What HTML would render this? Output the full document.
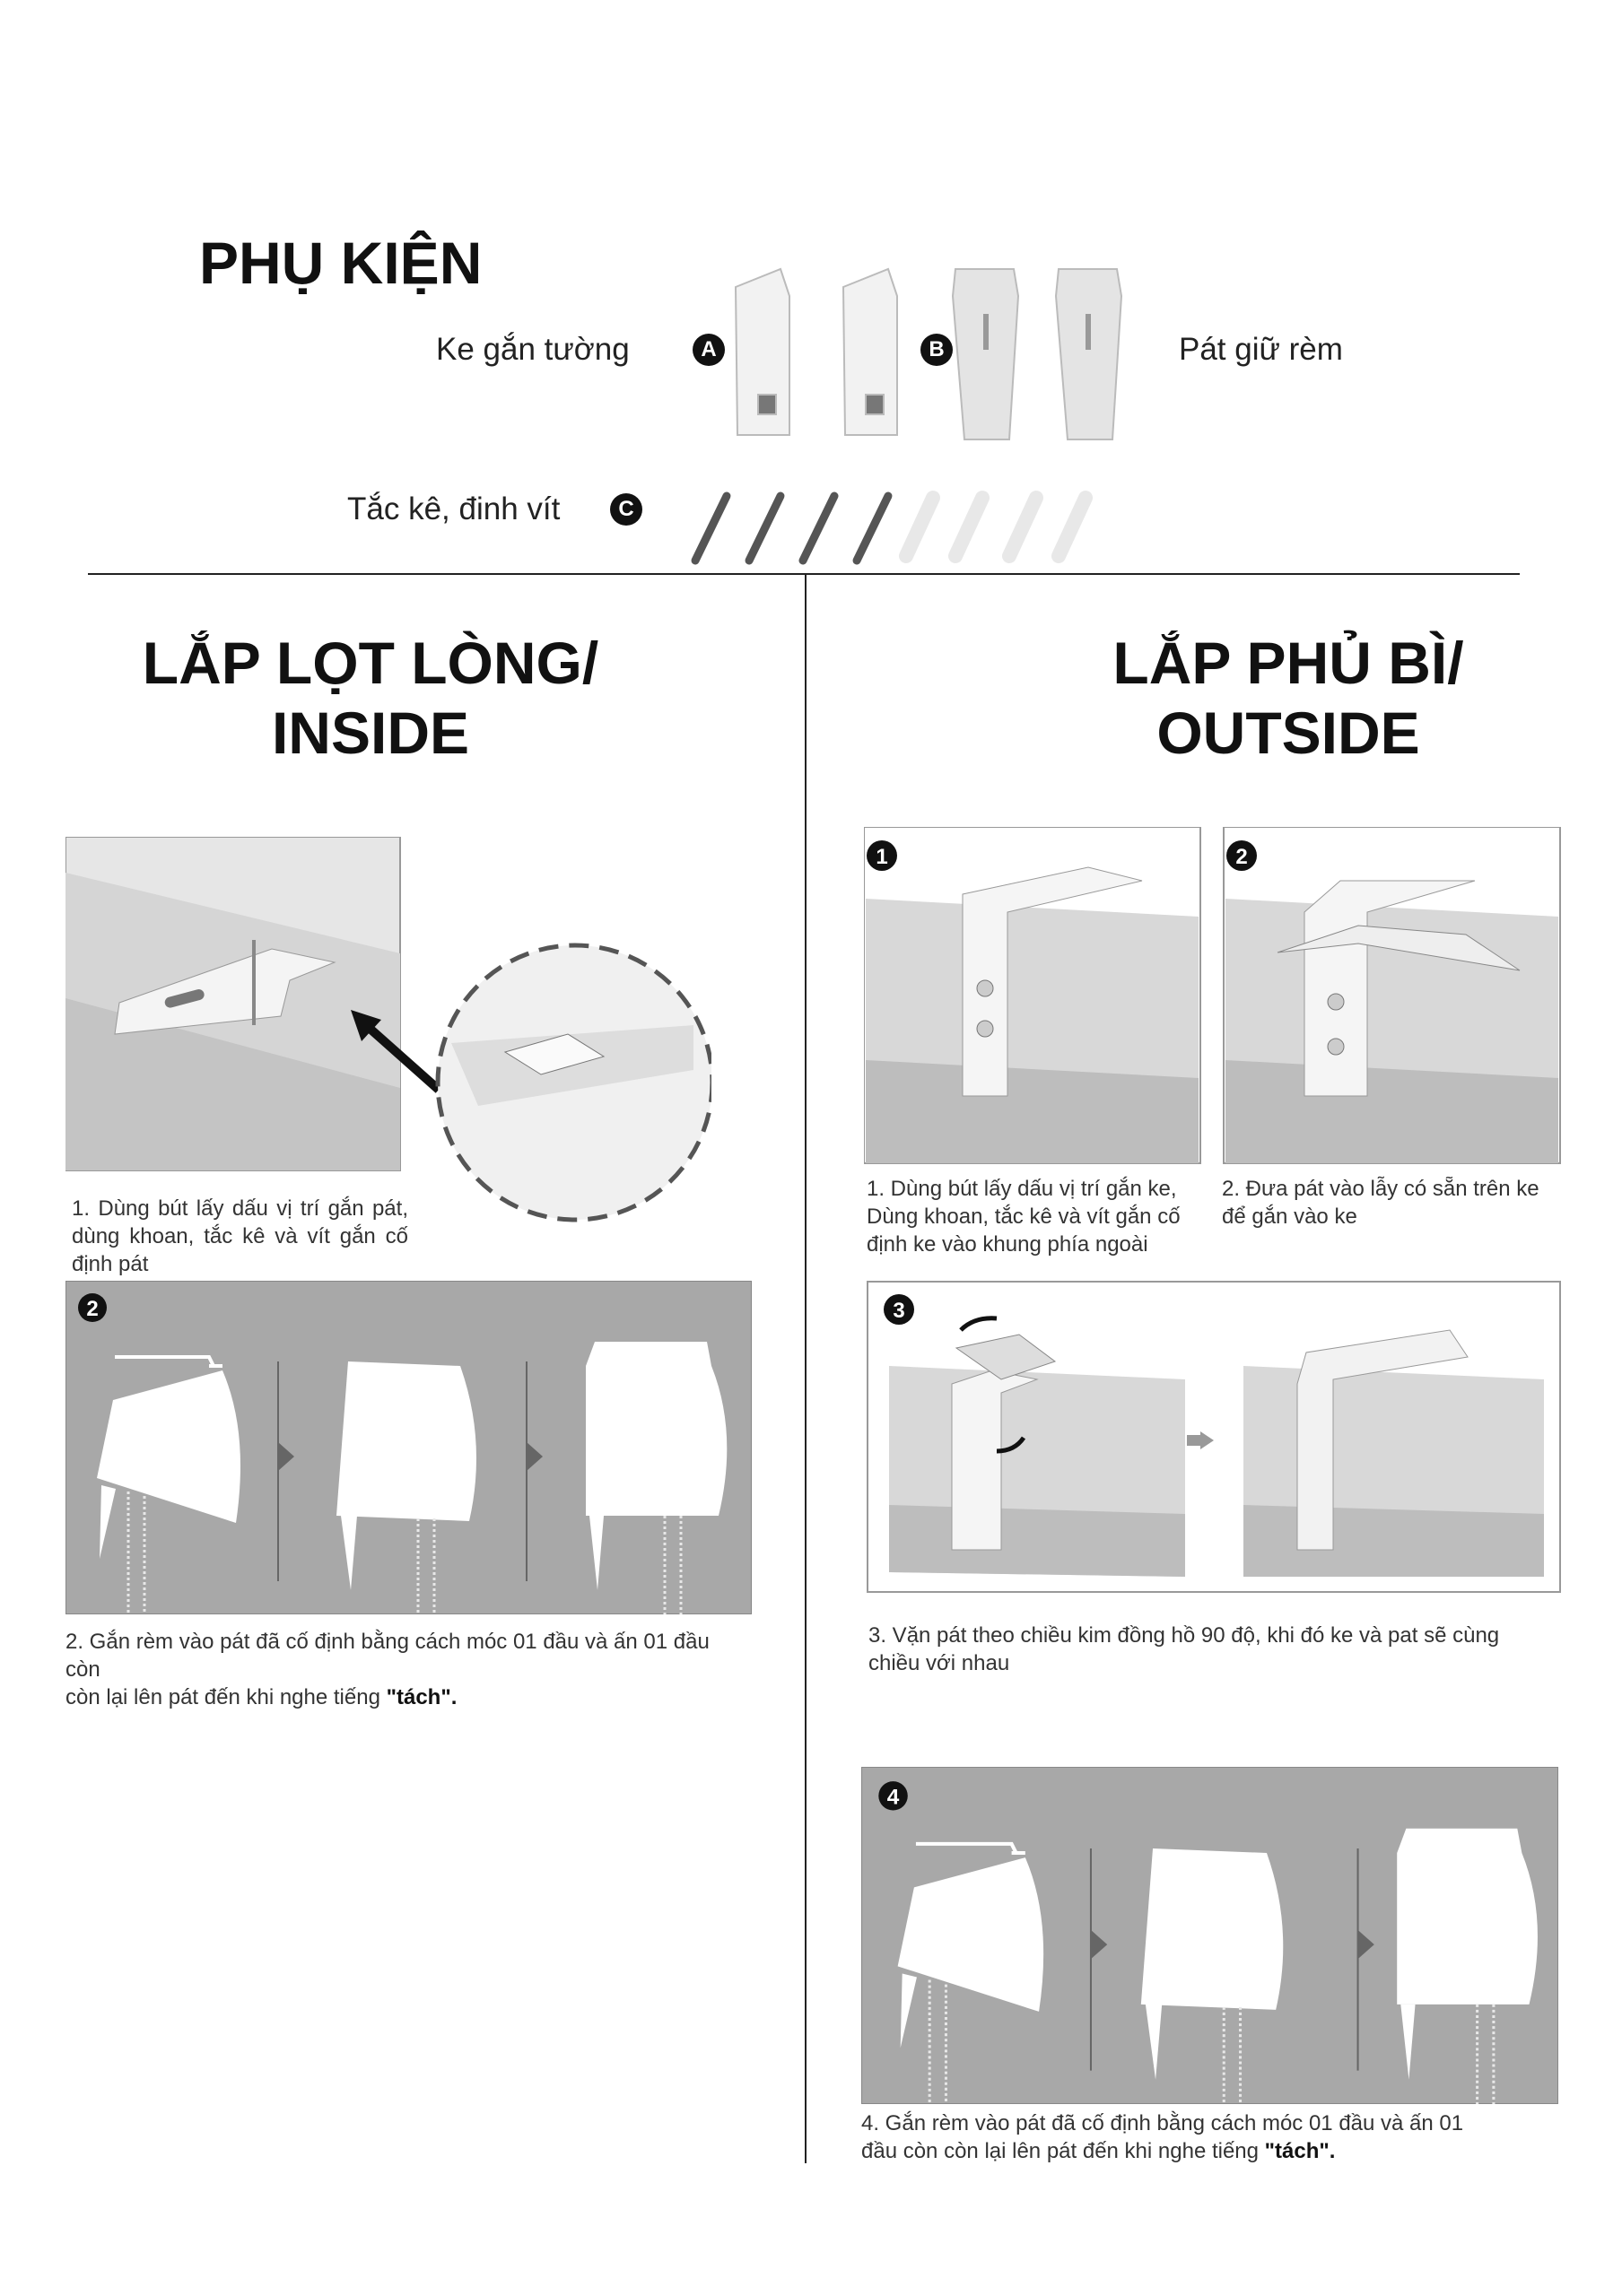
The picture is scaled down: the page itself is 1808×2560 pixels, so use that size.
<!DOCTYPE html>
<html><head><meta charset="utf-8"><style>
body{margin:0;background:#fff;}
#p{position:relative;width:1808px;height:2560px;overflow:hidden;background:#fff;font-family:"Liberation Sans",sans-serif;color:#222;}
.a{position:absolute;}
.h{font-weight:bold;color:#111;}
.t{font-size:24px;line-height:31px;color:#333;}
.c{width:36px;height:36px;border-radius:50%;background:#111;color:#fff;font-weight:bold;font-size:24px;text-align:center;line-height:36px;}
</style></head><body><div id="p">

<div class="a h" style="left:222px;top:255px;font-size:66px;">PHỤ KIỆN</div>
<div class="a" style="left:486px;top:370px;font-size:35px;">Ke gắn tường</div>
<div class="a c" style="left:772px;top:372px;">A</div>
<div class="a c" style="left:1026px;top:372px;">B</div>
<div class="a" style="left:1314px;top:370px;font-size:35px;">Pát giữ rèm</div>
<div class="a" style="left:387px;top:548px;font-size:35px;">Tắc kê, đinh vít</div>
<div class="a c" style="left:680px;top:550px;">C</div>

<svg class="a" style="left:800px;top:290px" width="470" height="210">
 <g fill="#f2f2f2" stroke="#bbb" stroke-width="2">
  <path d="M20 30 L70 10 L80 40 L80 195 L22 195 Z"/><rect x="45" y="150" width="20" height="22" fill="#777"/>
  <path d="M140 30 L190 10 L200 40 L200 195 L142 195 Z"/><rect x="165" y="150" width="20" height="22" fill="#777"/>
  <path d="M265 10 L330 10 L335 40 L325 200 L275 200 L262 40 Z" fill="#e4e4e4"/>
  <path d="M380 10 L445 10 L450 40 L440 200 L390 200 L377 40 Z" fill="#e4e4e4"/>
 </g>
 <g fill="#999"><rect x="296" y="60" width="6" height="40"/><rect x="410" y="60" width="6" height="40"/></g>
</svg>
<svg class="a" style="left:765px;top:535px" width="470" height="100">
 <g stroke="#555" stroke-width="9" stroke-linecap="round">
  <line x1="10" y1="90" x2="45" y2="18"/><line x1="70" y1="90" x2="105" y2="18"/><line x1="130" y1="90" x2="165" y2="18"/><line x1="190" y1="90" x2="225" y2="18"/>
 </g>
 <g stroke="#e8e8e8" stroke-width="16" stroke-linecap="round">
  <line x1="245" y1="85" x2="275" y2="20"/><line x1="300" y1="85" x2="330" y2="20"/><line x1="360" y1="85" x2="390" y2="20"/><line x1="415" y1="85" x2="445" y2="20"/>
 </g>
</svg>

<div class="a" style="left:98px;top:639px;width:1596px;height:2px;background:#222;"></div>
<div class="a" style="left:897px;top:640px;width:2px;height:1772px;background:#222;"></div>

<div class="a h" style="left:113px;top:700px;width:600px;text-align:center;font-size:66px;line-height:78px;">LẮP LỌT LÒNG/<br>INSIDE</div>
<div class="a h" style="left:1136px;top:700px;width:600px;text-align:center;font-size:66px;line-height:78px;">LẮP PHỦ BÌ/<br>OUTSIDE</div>

<!-- left panel 1 -->
<svg class="a" style="left:73px;top:933px" width="720" height="430">
 <rect x="0" y="0" width="373" height="372" fill="#e6e6e6" stroke="#999" stroke-width="2"/>
 <polygon points="0,40 373,130 373,372 0,372" fill="#d5d5d5"/>
 <polygon points="0,180 373,280 373,372 0,372" fill="#c4c4c4"/>
 <polygon points="60,185 230,125 300,140 250,160 240,200 55,220" fill="#f4f4f4" stroke="#999"/>
 <rect x="110" y="175" width="45" height="12" rx="6" fill="#777" transform="rotate(-15 130 180)"/>
 <line x1="210" y1="115" x2="210" y2="210" stroke="#888" stroke-width="4"/>
 <path d="M416 282 L335 210" stroke="#111" stroke-width="10"/>
 <polygon points="318,193 352,204 330,228" fill="#111"/>
 <circle cx="568" cy="274" r="153" fill="#f0f0f0" stroke="#555" stroke-width="5" stroke-dasharray="22 12"/>
 <polygon points="430,230 700,210 700,260 460,300" fill="#ddd"/>
 <polygon points="490,240 560,220 600,245 530,265" fill="#fafafa" stroke="#777"/>
</svg>
<div class="a t" style="left:80px;top:1332px;width:375px;text-align:justify;">1. Dùng bút lấy dấu vị trí gắn pát, dùng khoan, tắc kê và vít gắn cố định pát</div>

<!-- roller panel (left 2) -->
<svg class="a" style="left:73px;top:1428px" width="765" height="372" viewBox="0 0 765 372">
 <rect x="0" y="0" width="765" height="372" fill="#a8a8a8" stroke="#888" stroke-width="2"/>
 <circle cx="30" cy="30" r="16" fill="#111"/><text x="30" y="39" font-size="24" font-weight="bold" fill="#fff" text-anchor="middle" font-family="Liberation Sans">2</text>
 <g fill="#fff">
  <path d="M53 133 L175 100 Q205 170 190 270 L35 220 Z"/>
  <path d="M40 228 L56 232 L38 310 Z"/>
  <path d="M315 90 L440 95 Q470 180 450 268 L302 262 Z"/>
  <path d="M307 262 L325 262 L318 345 Z"/>
  <path d="M590 68 L715 68 L720 95 Q750 170 728 262 L580 262 L580 95 Z"/>
  <path d="M584 262 L600 262 L593 345 Z"/>
 </g>
 <path d="M55 85 L160 85 L165 95 M160 95 L175 95" stroke="#fff" stroke-width="4" fill="none"/>
 <polygon points="237,180 255,196 237,212" fill="#666"/>
 <polygon points="514,180 532,196 514,212" fill="#666"/>
 <line x1="237" y1="90" x2="237" y2="335" stroke="#666" stroke-width="2"/>
 <line x1="514" y1="90" x2="514" y2="335" stroke="#666" stroke-width="2"/>
 <g stroke="#e8e8e8" stroke-width="3" stroke-dasharray="3 3">
  <line x1="70" y1="235" x2="70" y2="372"/><line x1="88" y1="240" x2="88" y2="372"/>
  <line x1="393" y1="265" x2="393" y2="372"/><line x1="411" y1="265" x2="411" y2="372"/>
  <line x1="668" y1="262" x2="668" y2="372"/><line x1="686" y1="262" x2="686" y2="372"/>
 </g>
</svg>
<div class="a t" style="left:73px;top:1815px;width:800px;">2. Gắn rèm vào pát đã cố định bằng cách móc 01 đầu và ấn 01 đầu<br>còn<br>còn lại lên pát đến khi nghe tiếng <b style="color:#111">"tách".</b></div>

<!-- right panels 1,2 -->
<svg class="a" style="left:963px;top:922px" width="780" height="380">
 <g>
  <rect x="0" y="0" width="375" height="375" fill="#fff" stroke="#999" stroke-width="2"/>
  <polygon points="2,80 373,100 373,310 2,300" fill="#d8d8d8"/>
  <polygon points="2,260 373,280 373,375 2,375" fill="#bdbdbd"/>
  <path d="M110 75 L250 45 L310 60 L160 95 L160 300 L110 300 Z" fill="#f5f5f5" stroke="#999"/>
  <circle cx="135" cy="180" r="9" fill="#ccc" stroke="#777"/><circle cx="135" cy="225" r="9" fill="#ccc" stroke="#777"/>
  <circle cx="20" cy="32" r="17" fill="#111"/><text x="20" y="41" font-size="24" font-weight="bold" fill="#fff" text-anchor="middle" font-family="Liberation Sans">1</text>
 </g>
 <g transform="translate(401,0)">
  <rect x="0" y="0" width="375" height="375" fill="#fff" stroke="#999" stroke-width="2"/>
  <polygon points="2,80 373,100 373,310 2,300" fill="#d8d8d8"/>
  <polygon points="2,260 373,280 373,375 2,375" fill="#bdbdbd"/>
  <path d="M90 95 L130 60 L280 60 L160 95 L160 300 L90 300 Z" fill="#f5f5f5" stroke="#999"/>
  <path d="M60 140 L150 110 L270 120 L330 160 L300 155 L150 130 Z" fill="#eee" stroke="#888"/>
  <circle cx="125" cy="195" r="9" fill="#ccc" stroke="#777"/><circle cx="125" cy="245" r="9" fill="#ccc" stroke="#777"/>
  <circle cx="20" cy="32" r="17" fill="#111"/><text x="20" y="41" font-size="24" font-weight="bold" fill="#fff" text-anchor="middle" font-family="Liberation Sans">2</text>
 </g>
</svg>
<div class="a t" style="left:966px;top:1310px;width:380px;">1. Dùng bút lấy dấu vị trí gắn ke, Dùng khoan, tắc kê và vít gắn cố định ke vào khung phía ngoài</div>
<div class="a t" style="left:1362px;top:1310px;width:380px;">2. Đưa pát vào lẫy có sẵn trên ke để gắn vào ke</div>

<!-- right panel 3 -->
<svg class="a" style="left:966px;top:1428px" width="775" height="350">
 <rect x="1" y="1" width="772" height="346" fill="#fff" stroke="#999" stroke-width="2"/>
 <circle cx="36" cy="32" r="17" fill="#111"/><text x="36" y="41" font-size="24" font-weight="bold" fill="#fff" text-anchor="middle" font-family="Liberation Sans">3</text>
 <polygon points="25,95 355,110 355,330 25,325" fill="#d8d8d8"/>
 <polygon points="25,250 355,260 355,330 25,325" fill="#bdbdbd"/>
 <path d="M95 115 L140 100 L190 110 L150 125 L150 300 L95 300 Z" fill="#f5f5f5" stroke="#999"/>
 <path d="M100 75 L170 60 L210 90 L150 110 Z" fill="#ddd" stroke="#888"/>
 <path d="M105 55 Q120 40 145 42" stroke="#111" stroke-width="5" fill="none"/>
 <path d="M175 175 Q165 190 145 190" stroke="#111" stroke-width="5" fill="none"/>
 <polygon points="372,168 387,178 372,188" fill="#999"/><rect x="357" y="172" width="15" height="12" fill="#999"/>
 <polygon points="420,95 755,110 755,330 420,330" fill="#d8d8d8"/>
 <polygon points="420,250 755,260 755,330 420,330" fill="#bdbdbd"/>
 <path d="M480 115 L490 80 L650 55 L670 85 L520 110 L520 300 L480 300 Z" fill="#f2f2f2" stroke="#999"/>
</svg>
<div class="a t" style="left:968px;top:1808px;width:780px;">3. Vặn pát theo chiều kim đồng hồ 90 độ, khi đó ke và pat sẽ cùng<br>chiều với nhau</div>

<!-- right panel 4 -->
<svg class="a" style="left:960px;top:1970px" width="777" height="376" viewBox="0 0 765 372" preserveAspectRatio="none">
 <rect x="0" y="0" width="765" height="372" fill="#a8a8a8" stroke="#888" stroke-width="2"/>
 <circle cx="35" cy="32" r="16" fill="#111"/><text x="35" y="41" font-size="24" font-weight="bold" fill="#fff" text-anchor="middle" font-family="Liberation Sans">4</text>
 <g fill="#fff">
  <path d="M58 133 L180 100 Q210 170 195 270 L40 220 Z"/>
  <path d="M45 228 L61 232 L43 310 Z"/>
  <path d="M320 90 L445 95 Q475 180 455 268 L307 262 Z"/>
  <path d="M312 262 L330 262 L323 345 Z"/>
  <path d="M598 68 L720 68 L725 95 Q755 170 733 262 L588 262 L588 95 Z"/>
  <path d="M592 262 L608 262 L601 345 Z"/>
 </g>
 <path d="M60 85 L165 85 L170 95 M165 95 L180 95" stroke="#fff" stroke-width="4" fill="none"/>
 <polygon points="252,180 270,196 252,212" fill="#666"/>
 <polygon points="545,180 563,196 545,212" fill="#666"/>
 <line x1="252" y1="90" x2="252" y2="335" stroke="#666" stroke-width="2"/>
 <line x1="545" y1="90" x2="545" y2="335" stroke="#666" stroke-width="2"/>
 <g stroke="#e8e8e8" stroke-width="3" stroke-dasharray="3 3">
  <line x1="75" y1="235" x2="75" y2="372"/><line x1="93" y1="240" x2="93" y2="372"/>
  <line x1="398" y1="265" x2="398" y2="372"/><line x1="416" y1="265" x2="416" y2="372"/>
  <line x1="676" y1="262" x2="676" y2="372"/><line x1="694" y1="262" x2="694" y2="372"/>
 </g>
</svg>
<div class="a t" style="left:960px;top:2352px;width:780px;">4. Gắn rèm vào pát đã cố định bằng cách móc 01 đầu và ấn 01<br>đầu còn còn lại lên pát đến khi nghe tiếng <b style="color:#111">"tách".</b></div>

</div></body></html>
